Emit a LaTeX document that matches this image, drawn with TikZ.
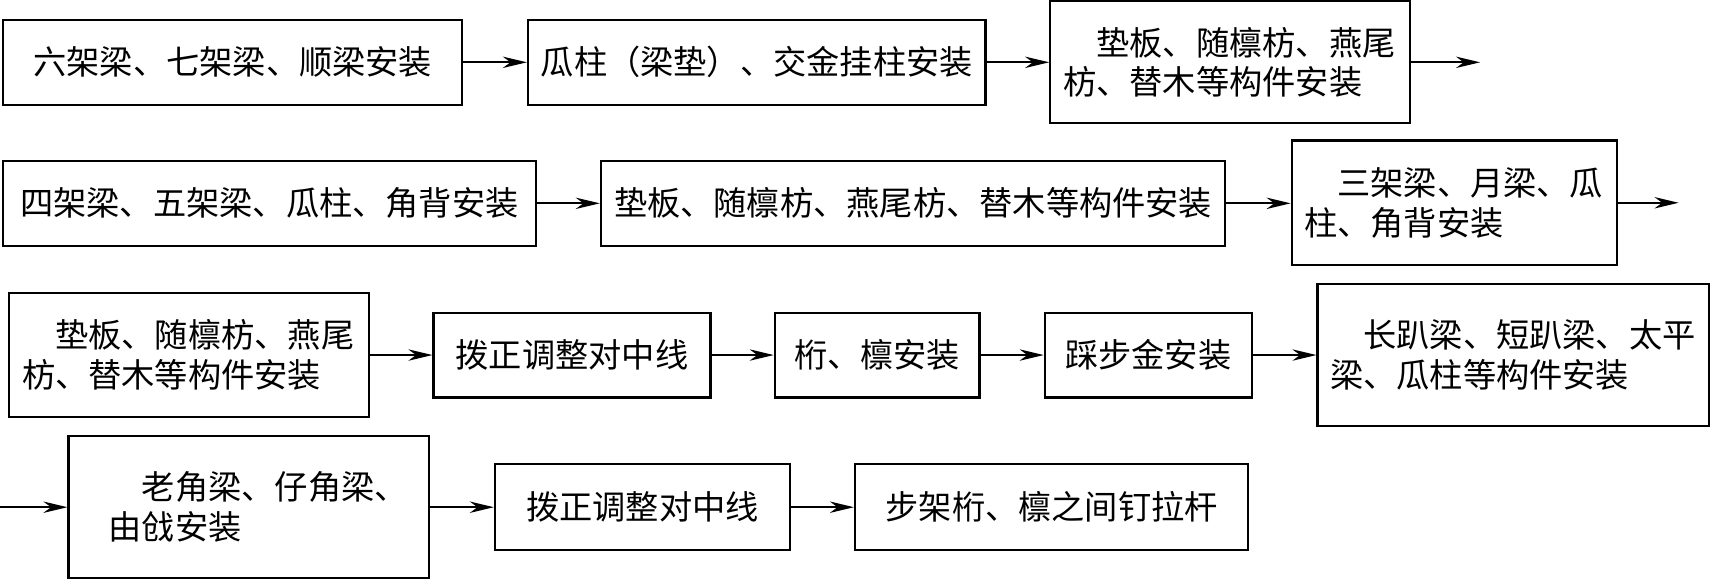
\documentclass[tikz,border=0pt]{standalone}
\usepackage{fontspec}
\newfontfamily\cjk{Noto Sans CJK SC}
\usetikzlibrary{arrows.meta}
\begin{document}
\begin{tikzpicture}[x=0.5pt,y=-0.5pt,
  box/.style={draw, line width=1pt, inner sep=0pt,
    font=\cjk\fontsize{15.2pt}{18.2pt}\selectfont, align=center},
  twoline/.style={box, align=left},
  flow/.style={line width=0.85pt, -{Stealth[length=11pt,width=5.2pt,inset=3.5pt]}}]
\useasboundingbox (0,0) rectangle (1568,530);
% row 1
\node[box, minimum width=210pt, minimum height=39pt] (A) at (213,57) {六架梁、七架梁、顺梁安装};
\node[box, minimum width=209.3pt, minimum height=39pt] (B) at (692.3,57) {瓜柱（梁垫）、交金挂柱安装};
\node[twoline, minimum width=164.4pt, minimum height=55.85pt, text width=152.5pt] (C) at (1125.2,57) {\hspace*{1em}垫板、随檩枋、燕尾\\枋、替木等构件安装};
\coordinate (Cout) at (1354,57);
% row 2
\node[box, minimum width=243.5pt, minimum height=39pt] (D) at (246.5,186) {四架梁、五架梁、瓜柱、角背安装};
\node[box, minimum width=285.65pt, minimum height=39pt] (E) at (835.35,186) {垫板、随檩枋、燕尾枋、替木等构件安装};
\node[twoline, minimum width=148.6pt, minimum height=56.95pt, text width=137.3pt] (F) at (1330.3,185.5) {\hspace*{1em}三架梁、月梁、瓜\\柱、角背安装};
\coordinate (Fout) at (1535.6,185.5);
% row 3
\node[twoline, minimum width=164.65pt, minimum height=56.7pt, text width=152.5pt] (G) at (172.65,324.5) {\hspace*{1em}垫板、随檩枋、燕尾\\枋、替木等构件安装};
\node[box, minimum width=126.7pt, minimum height=38.8pt] (H) at (523.3,324.8) {拨正调整对中线};
\node[box, minimum width=93.6pt, minimum height=38.8pt] (I) at (802.4,324.8) {桁、檩安装};
\node[box, minimum width=94.6pt, minimum height=38.8pt] (J) at (1050.4,324.8) {踩步金安装};
\node[twoline, minimum width=179.2pt, minimum height=64.95pt, text width=167.7pt] (K) at (1384.5,324.75) {\hspace*{1em}长趴梁、短趴梁、太平\\梁、瓜柱等构件安装};
% row 4
\coordinate (Lin) at (0,464);
\node[twoline, minimum width=164.95pt, minimum height=65.05pt, text width=146.4pt] (L) at (227.65,463.95) {\hspace*{1.6em}老角梁、仔角梁、\\\hspace*{0.6em}由戗安装};
\node[box, minimum width=135.05pt, minimum height=39.2pt] (M) at (587.85,464) {拨正调整对中线};
\node[box, minimum width=179.9pt, minimum height=39.2pt] (N) at (962.1,464) {步架桁、檩之间钉拉杆};
% connectors
\draw[flow] (A) -- (B);
\draw[flow] (B) -- (B.east -| C.west);
\draw[flow] (C.east |- Cout) -- (Cout);
\draw[flow] (D) -- (E);
\draw[flow] (E.east) -- (E.east -| F.west);
\draw[flow] (F.east |- Fout) -- (Fout);
\draw[flow] (G.east |- H.west) -- (H.west);
\draw[flow] (H) -- (I);
\draw[flow] (I) -- (J);
\draw[flow] (J.east) -- (J.east -| K.west);
\draw[flow] (Lin) -- (Lin -| L.west);
\draw[flow] (L.east |- M.west) -- (M.west);
\draw[flow] (M) -- (N);
\end{tikzpicture}
\end{document}
